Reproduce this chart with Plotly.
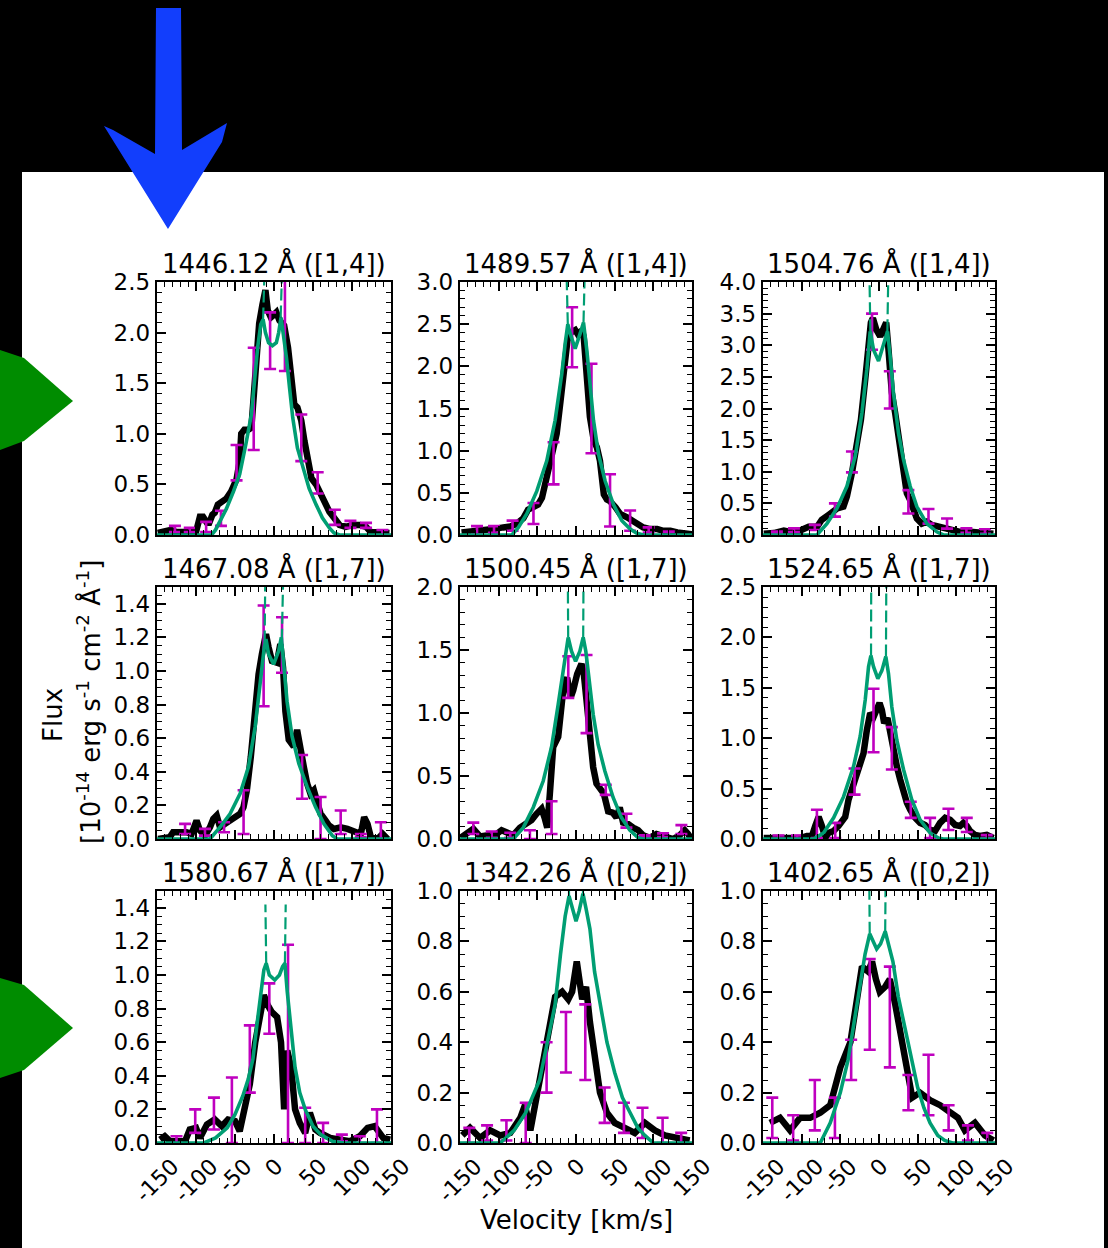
import plotly.graph_objects as go

FIG_W, FIG_H = 1108, 1248

TITLES = ["1446.12 Å ([1,4])", "1489.57 Å ([1,4])", "1504.76 Å ([1,4])",
          "1467.08 Å ([1,7])", "1500.45 Å ([1,7])", "1524.65 Å ([1,7])",
          "1580.67 Å ([1,7])", "1342.26 Å ([0,2])", "1402.65 Å ([0,2])"]
Y_MAX = [2.5, 3.0, 4.0, 1.5, 2.0, 2.5, 1.5, 1.0, 1.0]
Y_DTICK = [0.5, 0.5, 0.5, 0.2, 0.5, 0.5, 0.2, 0.2, 0.2]
Y_MINOR = [0.1, 0.1, 0.1, 0.05, 0.1, 0.1, 0.05, 0.05, 0.05]
X_TICKS = [-150, -100, -50, 0, 50, 100, 150]

# ---------------- panel 1 : 1446.12
obs_v1 = [-149, -140, -132, -125, -115, -105, -100, -95, -91, -86, -83, -79, -76, -72, -66, -61, -55, -48, -44, -42,
          -38, -33, -29, -27, -23, -19, -15, -11, -8, -4, -1, 3, 7, 13, 18, 22, 26, 30, 35, 39, 43, 48, 54, 58, 65,
          71, 77, 84, 92, 101, 110, 118, 124, 135, 148]
obs_f1 = [0.02, 0.03, 0.05, 0.03, 0.03, 0.04, 0.03, 0.18, 0.18, 0.12, 0.12, 0.2, 0.22, 0.3, 0.34, 0.36, 0.43, 0.55,
          0.73, 1.0, 1.04, 1.04, 1.06, 1.32, 1.82, 2.09, 2.27, 2.42, 2.22, 2.15, 2.17, 2.2, 2.12, 2.07, 1.85, 1.56,
          1.29, 1.26, 1.13, 0.93, 0.79, 0.56, 0.5, 0.43, 0.3, 0.23, 0.17, 0.1, 0.08, 0.1, 0.1, 0.08, 0.03, 0.03, 0.02]
mod_v1 = [-150, -80, -75, -70, -61, -52, -44, -36, -29, -25, -21, -17, -14, -11, -7, -2, 3, 6, 9, 12, 16, 20, 24,
          30, 37, 45, 54, 62, 71, 77, 84, 150]
mod_f1 = [0.0, 0.0, 0.05, 0.13, 0.26, 0.43, 0.6, 0.9, 1.19, 1.52, 1.85, 2.08, 2.13, 2.0, 1.9, 1.87, 1.9, 2.0, 2.15,
          1.98, 1.75, 1.45, 1.16, 0.86, 0.66, 0.46, 0.3, 0.17, 0.07, 0.02, 0.0, 0.0]
int_v1 = [-14, -11, None, 8.5, 11.5]
int_f1 = [2.13, 2.9, None, 2.15, 2.9]
err_v1 = [-127, -108, -87, -68, -48, -26, -5, 14, 35, 56, 78, 98, 118, 139]
err_f1 = [0.06, 0.05, 0.08, 0.165, 0.715, 1.345, 1.92, 2.1, 0.96, 0.515, 0.175, 0.105, 0.095, 0.025]
err_e1 = [0.03, 0.02, 0.05, 0.075, 0.175, 0.505, 0.28, 0.48, 0.23, 0.105, 0.075, 0.035, 0.025, 0.025]

# ---------------- panel 2 : 1489.57
obs_v2 = [-148, -133, -120, -107, -94, -85, -77, -68, -62, -55, -49, -44, -38, -31, -25, -20, -15, -11, -7, -1,
          3, 7.5, 10, 14, 18, 23, 27, 31, 36, 40, 44, 51, 57, 66, 72, 79, 87, 96, 105, 113, 122, 131, 144, 150]
obs_f2 = [0.03, 0.04, 0.055, 0.07, 0.09, 0.1, 0.13, 0.2, 0.3, 0.33, 0.36, 0.44, 0.68, 0.92, 1.2, 1.59, 2.07, 2.31,
          2.4, 2.43, 2.37, 2.43, 2.35, 1.83, 1.4, 1.12, 1.04, 0.88, 0.48, 0.42, 0.4, 0.33, 0.25, 0.21, 0.17, 0.13,
          0.09, 0.07, 0.07, 0.05, 0.05, 0.03, 0.02, 0.01]
mod_v2 = [-150, -83, -74.5, -63.7, -50.7, -37.8, -27, -18.4, -14, -10.6, -7.6, -1.1, 5.4, 9.7, 14, 18.3, 22.6,
          29.1, 37.7, 48.5, 59.3, 70.1, 78.7, 87.4, 150]
mod_f2 = [0.0, 0.0, 0.09, 0.25, 0.52, 0.88, 1.36, 1.91, 2.27, 2.5, 2.39, 2.21, 2.39, 2.52, 2.19, 1.75, 1.36, 0.96,
          0.64, 0.36, 0.17, 0.07, 0.02, 0.0, 0.0]
int_v2 = [-10.6, -12.7, None, 9.7, 11.8]
int_f2 = [2.5, 3.3, None, 2.52, 3.3]
err_v2 = [-128, -106, -82, -55, -29, -5, 20, 44, 70, 94, 120]
err_f2 = [0.055, 0.065, 0.11, 0.255, 0.85, 2.345, 1.5, 0.41, 0.17, 0.06, 0.02]
err_e2 = [0.05, 0.04, 0.06, 0.125, 0.25, 0.355, 0.53, 0.31, 0.12, 0.03, 0.02]

# ---------------- panel 3 : 1504.76
obs_v3 = [-149, -136, -123, -115, -102, -91, -80, -74, -65, -54, -46, -41.5, -35, -28.6, -23.4, -17.8, -13.5,
          -10.5, -7.9, -3.6, 1.5, 6.7, 9.3, 12.3, 16.6, 20.9, 27.4, 31.7, 36, 40.3, 44.6, 48.9, 55.3, 61.8, 68.3,
          79, 87.6, 96.2, 104.8, 117.8, 130.7, 147.9]
obs_f3 = [0.02, 0.03, 0.07, 0.05, 0.07, 0.13, 0.13, 0.24, 0.32, 0.42, 0.45, 0.61, 0.98, 1.4, 1.82, 2.46, 3.04,
          3.36, 3.43, 3.25, 3.14, 3.3, 3.36, 2.93, 2.25, 1.93, 1.4, 1.14, 0.66, 0.55, 0.42, 0.26, 0.18, 0.21, 0.16,
          0.13, 0.11, 0.07, 0.05, 0.05, 0.04, 0.02]
mod_v3 = [-150, -80.3, -67.3, -54.4, -41.5, -30.8, -22.1, -15.7, -11.4, -7.1, -0.6, 5.8, 11, 14.4, 18.7, 25.2,
          31.7, 40.3, 48.9, 61.8, 74.7, 83.3, 150]
mod_f3 = [0.0, 0.0, 0.18, 0.42, 0.77, 1.24, 1.93, 2.62, 3.22, 2.93, 2.75, 2.99, 3.22, 2.83, 2.25, 1.61, 1.19, 0.77,
          0.45, 0.18, 0.05, 0.0, 0.0]
int_v3 = [-11.2, -12.6, None, 10.8, 12.3]
int_f3 = [3.22, 4.3, None, 3.22, 4.3]
err_v3 = [-132, -110, -83, -57, -35, -9, 14, 38, 64, 88, 113, 137]
err_f3 = [0.035, 0.075, 0.12, 0.395, 1.155, 3.215, 2.295, 0.525, 0.295, 0.18, 0.07, 0.055]
err_e3 = [0.02, 0.03, 0.04, 0.105, 0.165, 0.285, 0.295, 0.185, 0.115, 0.08, 0.035, 0.035]

# ---------------- panel 4 : 1467.08
obs_v4 = [-148.7, -133.7, -129.4, -120.8, -112.2, -105.7, -99.3, -95, -88.5, -82.1, -77.8, -73.5, -69.2, -62.8,
          -56.3, -49.9, -43.4, -39.1, -34.8, -29.7, -25.4, -19.8, -15.5, -10.3, -6.9, -2.6, 3.8, 8.1, 11.6, 14.6,
          18.9, 25.3, 29.6, 33.9, 38.2, 42.5, 46.8, 51.1, 55.4, 59.7, 66.2, 70.5, 76.9, 85.5, 94.1, 102.7, 111.3,
          115.6, 119.9, 124.2, 132.8, 139.2, 145.7]
obs_f4 = [0.0, 0.01, 0.04, 0.04, 0.04, 0.03, 0.11, 0.05, 0.02, 0.07, 0.12, 0.14, 0.07, 0.09, 0.11, 0.13, 0.15,
          0.19, 0.29, 0.49, 0.72, 0.98, 1.1, 1.22, 1.14, 1.06, 1.05, 1.16, 1.02, 0.76, 0.59, 0.55, 0.65, 0.51, 0.43,
          0.33, 0.27, 0.29, 0.21, 0.15, 0.11, 0.08, 0.06, 0.07, 0.06, 0.04, 0.03, 0.13, 0.09, 0.01, 0.0, 0.03, 0.0]
mod_v4 = [-150, -82.1, -69.2, -56.3, -43.4, -32.7, -24.1, -17.6, -12.5, -10.3, -6.9, -0.5, 6, 9.4, 12.4, 16.7,
          23.2, 31.8, 42.5, 53.3, 64, 74.8, 81.2, 150]
mod_f4 = [0.0, 0.0, 0.07, 0.15, 0.27, 0.43, 0.67, 0.94, 1.14, 1.19, 1.1, 1.04, 1.12, 1.2, 1.06, 0.82, 0.61, 0.45,
          0.31, 0.19, 0.09, 0.02, 0.0, 0.0]
int_v4 = [-12.0, -11.0, None, 10.0, 12.2]
int_f4 = [1.17, 1.65, None, 1.18, 1.65]
err_v4 = [-114, -88.5, -64, -39, -13.3, 10.3, 36, 59.7, 85.5, 111.3, 137]
err_f4 = [0.06, 0.04, 0.07, 0.16, 1.09, 1.155, 0.37, 0.125, 0.1, 0.02, 0.05]
err_e4 = [0.03, 0.02, 0.03, 0.13, 0.3, 0.165, 0.13, 0.125, 0.07, 0.01, 0.05]

# ---------------- panel 5 : 1500.45
obs_v5 = [-149.1, -141.4, -132.8, -124.2, -111.3, -102.6, -96.2, -89.7, -81.1, -72.5, -63.9, -57.4, -51, -44.5,
          -40.2, -37.2, -33.8, -29.5, -23, -20, -15.7, -11.4, -7.1, -3.6, 1.5, 7.1, 10.1, 13.6, 17.9, 22.2, 26.5,
          30.8, 36, 41.6, 47.2, 52.3, 56.6, 60.9, 67.4, 73.8, 80.3, 86.8, 95.4, 104, 110.4, 116.9, 125.5, 134.1,
          140.6, 144.9, 149.2]
obs_f5 = [0.01, 0.04, 0.08, 0.02, 0.03, 0.04, 0.07, 0.05, 0.03, 0.09, 0.12, 0.15, 0.2, 0.24, 0.16, 0.09, 0.36,
          0.73, 0.81, 1.02, 1.23, 1.28, 1.12, 1.18, 1.31, 1.39, 1.31, 1.1, 0.81, 0.57, 0.44, 0.41, 0.36, 0.22, 0.21,
          0.17, 0.25, 0.13, 0.12, 0.09, 0.07, 0.03, 0.01, 0.04, 0.03, 0.01, 0.0, 0.03, 0.07, 0.04, 0.0]
mod_v5 = [-150, -81.1, -68.2, -55.3, -42.4, -31.6, -23, -16.6, -12.2, -10.1, -5.8, -0.6, 5, 9.3, 12.7, 17, 22.2,
          28.6, 37.3, 48, 58.8, 69.5, 80.3, 86.8, 150]
mod_f5 = [0.0, 0.0, 0.09, 0.25, 0.46, 0.73, 1.07, 1.33, 1.55, 1.6, 1.49, 1.41, 1.49, 1.6, 1.49, 1.25, 0.99, 0.75,
          0.54, 0.33, 0.17, 0.07, 0.01, 0.0, 0.0]
int_v5 = [-10.1, -10.8, None, 9.3, 9.9]
int_f5 = [1.6, 2.3, None, 1.6, 2.3]
err_v5 = [-132.8, -109, -85, -59.6, -31.6, -10, 13.6, 38.5, 65.2, 88.9, 112.6, 136.3]
err_f5 = [0.085, 0.035, 0.03, 0.035, 0.17, 1.285, 1.15, 0.39, 0.145, 0.02, 0.03, 0.075]
err_e5 = [0.045, 0.025, 0.02, 0.035, 0.13, 0.165, 0.31, 0.04, 0.055, 0.01, 0.015, 0.035]

# ---------------- panel 6 : 1524.65
obs_v6 = [-149.1, -123.3, -101.8, -93.2, -86.7, -82.4, -78.1, -73.8, -69.5, -65.2, -58.7, -52.3, -48, -43.7,
          -39.4, -32.9, -26.5, -20, -15.7, -11.4, -7.1, -2.8, 0.7, 3.7, 6.7, 11, 14.4, 18.7, 23.1, 27.4, 31.7, 36,
          40.3, 46.7, 53.2, 59.6, 66.1, 72.6, 79, 85.5, 91.9, 98.4, 104.8, 109.1, 113.5, 117.8, 124.2, 130.7, 139.3,
          147.9]
obs_f6 = [0.01, 0.01, 0.01, 0.03, 0.03, 0.13, 0.22, 0.13, 0.01, 0.06, 0.08, 0.13, 0.17, 0.22, 0.39, 0.55, 0.72,
          0.85, 1.08, 1.25, 1.21, 1.28, 1.35, 1.28, 1.15, 1.2, 1.05, 0.82, 0.72, 0.59, 0.46, 0.36, 0.29, 0.21, 0.16,
          0.14, 0.09, 0.08, 0.16, 0.21, 0.19, 0.14, 0.13, 0.16, 0.13, 0.08, 0.04, 0.03, 0.04, 0.01]
mod_v6 = [-150, -84.6, -71.7, -58.7, -45.8, -32.9, -24.3, -17.8, -13.5, -10.5, -7.1, -1.5, 3.7, 8.8, 12.3, 16.6,
          23.1, 31.7, 42.4, 53.2, 66.1, 76.9, 83.3, 150]
mod_f6 = [0.0, 0.0, 0.06, 0.21, 0.42, 0.72, 1.02, 1.38, 1.71, 1.82, 1.71, 1.59, 1.67, 1.81, 1.64, 1.31, 0.98, 0.69,
          0.39, 0.19, 0.06, 0.01, 0.0, 0.0]
int_v6 = [-10.3, -10.0, None, 9.0, 9.6]
int_f6 = [1.82, 2.8, None, 1.81, 2.8]
err_v6 = [-130, -106, -80.3, -56.6, -31.6, -7.1, 16.6, 41.1, 66.1, 89.8, 113.5, 139.3]
err_f6 = [0.02, 0.02, 0.15, 0.085, 0.57, 1.175, 0.9, 0.29, 0.11, 0.195, 0.14, 0.025]
err_e6 = [0.015, 0.015, 0.14, 0.075, 0.13, 0.315, 0.21, 0.08, 0.1, 0.105, 0.07, 0.015]

# ---------------- panel 7 : 1580.67
obs_v7 = [-146, -140, -133, -114, -108, -100, -95, -86, -76, -67, -59, -50, -44, -37, -31, -24, -18, -13, -8, -3,
          4, 9, 13, 17, 22, 27, 33, 40, 46, 53, 59, 72, 85, 97, 110, 120, 129, 140, 149]
obs_f7 = [0.02, 0.04, 0.01, 0.01, 0.08, 0.09, 0.03, 0.11, 0.14, 0.1, 0.14, 0.13, 0.07, 0.2, 0.35, 0.6, 0.75, 0.88,
          0.82, 0.78, 0.75, 0.6, 0.2, 0.55, 0.45, 0.2, 0.12, 0.06, 0.18, 0.08, 0.06, 0.03, 0.02, 0.01, 0.04, 0.09,
          0.1, 0.03, 0.02]
mod_v7 = [-150, -90, -75, -60, -50, -40, -33, -27, -22, -17, -13, -10, -6, 1, 7, 11, 14, 17, 22, 27, 33, 40, 50,
          60, 75, 90, 150]
mod_f7 = [0.0, 0.0, 0.03, 0.09, 0.17, 0.28, 0.38, 0.5, 0.7, 0.9, 1.03, 1.07, 1.0, 0.97, 1.0, 1.05, 1.07, 0.9, 0.65,
          0.45, 0.3, 0.2, 0.1, 0.05, 0.01, 0.0, 0.0]
int_v7 = [-10, -11, None, 14, 15]
int_f7 = [1.07, 1.42, None, 1.07, 1.42]
err_v7 = [-125, -101, -77, -54, -31, -6, 18, 40, 63, 87, 110, 132]
err_f7 = [0.02, 0.13, 0.175, 0.195, 0.5, 0.8, 0.59, 0.105, 0.06, 0.03, 0.02, 0.1]
err_e7 = [0.02, 0.07, 0.095, 0.195, 0.2, 0.15, 0.59, 0.105, 0.06, 0.02, 0.02, 0.1]

# ---------------- panel 8 : 1342.26
obs_v8 = [-147, -137, -124, -111, -98, -85, -72, -66, -59, -47, -36, -27, -18, -10, -5, 1, 8, 13, 18, 25, 31, 40,
          50, 63, 76, 89, 102, 115, 134, 147]
obs_f8 = [0.03, 0.06, 0.02, 0.05, 0.03, 0.04, 0.1, 0.15, 0.05, 0.25, 0.45, 0.58, 0.6, 0.57, 0.6, 0.72, 0.57, 0.62,
          0.48, 0.3, 0.2, 0.12, 0.08, 0.06, 0.04, 0.08, 0.05, 0.03, 0.02, 0.01]
mod_v8 = [-150, -98, -80, -65, -47, -35, -27, -20, -14, -9, -4, 0, 4, 9, 13, 18, 24, 31, 40, 50, 60, 70, 80, 89,
          100, 150]
mod_f8 = [0.0, 0.0, 0.05, 0.12, 0.25, 0.42, 0.55, 0.75, 0.9, 0.98, 0.92, 0.88, 0.92, 0.99, 0.93, 0.85, 0.68, 0.55,
          0.4, 0.28, 0.18, 0.12, 0.06, 0.03, 0.0, 0.0]
int_v8 = [-9, -10, None, 9, 10]
int_f8 = [0.98, 1.3, None, 0.99, 1.3]
err_v8 = [-138, -115, -90, -65, -38, -13, 12, 37, 62, 86, 112, 136]
err_f8 = [0.03, 0.04, 0.05, 0.08, 0.3, 0.4, 0.4, 0.15, 0.1, 0.08, 0.05, 0.02]
err_e8 = [0.03, 0.03, 0.04, 0.08, 0.1, 0.12, 0.15, 0.07, 0.06, 0.06, 0.05, 0.02]

# ---------------- panel 9 : 1402.65
obs_v9 = [-141, -128, -115, -102, -89, -76, -63, -50, -37, -28, -22, -14, -9, -4, 1, 8, 14, 21, 27, 34, 43, 53,
          66, 79, 92, 102, 111, 124, 137, 148]
obs_f9 = [0.08, 0.1, 0.05, 0.1, 0.1, 0.12, 0.15, 0.3, 0.4, 0.6, 0.7, 0.68, 0.72, 0.65, 0.6, 0.62, 0.65, 0.55, 0.45,
          0.3, 0.18, 0.2, 0.17, 0.15, 0.12, 0.1, 0.05, 0.08, 0.03, 0.01]
mod_v9 = [-150, -76, -63, -50, -40, -31, -24, -18, -12, -7, -3, 2, 8, 13, 18, 25, 34, 42, 50, 58, 66, 76, 85, 95,
          150]
mod_f9 = [0.0, 0.0, 0.08, 0.2, 0.33, 0.5, 0.63, 0.75, 0.83, 0.8, 0.77, 0.79, 0.84, 0.78, 0.72, 0.58, 0.45, 0.32,
          0.22, 0.14, 0.08, 0.03, 0.01, 0.0, 0.0]
int_v9 = [-12, -13, None, 8, 9]
int_f9 = [0.83, 1.2, None, 0.84, 1.2]
err_v9 = [-138, -111, -83, -57, -36, -12, 14, 38, 64, 90, 115, 140]
err_f9 = [0.1, 0.06, 0.15, 0.1, 0.33, 0.55, 0.5, 0.2, 0.23, 0.1, 0.04, 0.02]
err_e9 = [0.08, 0.05, 0.1, 0.08, 0.08, 0.18, 0.2, 0.07, 0.12, 0.05, 0.03, 0.02]

OBS_V = [obs_v1, obs_v2, obs_v3, obs_v4, obs_v5, obs_v6, obs_v7, obs_v8, obs_v9]
OBS_F = [obs_f1, obs_f2, obs_f3, obs_f4, obs_f5, obs_f6, obs_f7, obs_f8, obs_f9]
MOD_V = [mod_v1, mod_v2, mod_v3, mod_v4, mod_v5, mod_v6, mod_v7, mod_v8, mod_v9]
MOD_F = [mod_f1, mod_f2, mod_f3, mod_f4, mod_f5, mod_f6, mod_f7, mod_f8, mod_f9]
INT_V = [int_v1, int_v2, int_v3, int_v4, int_v5, int_v6, int_v7, int_v8, int_v9]
INT_F = [int_f1, int_f2, int_f3, int_f4, int_f5, int_f6, int_f7, int_f8, int_f9]
ERR_V = [err_v1, err_v2, err_v3, err_v4, err_v5, err_v6, err_v7, err_v8, err_v9]
ERR_F = [err_f1, err_f2, err_f3, err_f4, err_f5, err_f6, err_f7, err_f8, err_f9]
ERR_E = [err_e1, err_e2, err_e3, err_e4, err_e5, err_e6, err_e7, err_e8, err_e9]

BLACK = "#000000"
GREEN = "#009E73"
MAGENTA = "#BF00BF"
FONT = "DejaVu Sans"

# layout geometry (pixels)
COL_X = [(157, 391), (460, 692), (763, 995)]
ROW_Y = [(282, 535), (587, 839), (891, 1143)]


def px(x):
    return x / FIG_W


def py(y):
    return 1 - y / FIG_H


fig = go.Figure()
layout = dict(
    width=FIG_W, height=FIG_H, autosize=False,
    margin=dict(l=0, r=0, t=0, b=0, pad=0, autoexpand=False),
    paper_bgcolor="black", plot_bgcolor="white",
    showlegend=False,
    font=dict(family=FONT, color="black"),
)
annotations = []

for i in range(9):
    r, c = divmod(i, 3)
    n = "" if i == 0 else str(i + 1)
    xa, ya = "x" + n, "y" + n
    x0, x1 = COL_X[c]
    y0, y1 = ROW_Y[r]

    fig.add_trace(go.Scatter(x=OBS_V[i], y=OBS_F[i], mode="lines", xaxis=xa, yaxis=ya,
                             line=dict(color=BLACK, width=6.5), hoverinfo="skip"))
    fig.add_trace(go.Scatter(x=ERR_V[i], y=ERR_F[i], mode="markers", xaxis=xa, yaxis=ya,
                             marker=dict(size=1, color="rgba(0,0,0,0)"),
                             error_y=dict(type="data", array=ERR_E[i], symmetric=True,
                                          color=MAGENTA, thickness=2.6, width=6),
                             hoverinfo="skip"))
    fig.add_trace(go.Scatter(x=INT_V[i], y=INT_F[i], mode="lines", xaxis=xa, yaxis=ya,
                             connectgaps=False,
                             line=dict(color=GREEN, width=2.2, dash="12px,5px"), hoverinfo="skip"))
    fig.add_trace(go.Scatter(x=MOD_V[i], y=MOD_F[i], mode="lines", xaxis=xa, yaxis=ya,
                             line=dict(color=GREEN, width=3.6), hoverinfo="skip"))

    common = dict(showline=True, linecolor="black", linewidth=2.4, mirror="ticks",
                  ticks="inside", ticklen=9, tickwidth=1.6, tickcolor="black",
                  showgrid=False, zeroline=False, fixedrange=True, automargin=False)
    layout["xaxis" + n] = dict(
        domain=[px(x0), px(x1)], anchor=ya, range=[-150, 150],
        tickvals=X_TICKS, showticklabels=False,
        minor=dict(ticks="inside", dtick=10, tick0=0, ticklen=5, tickwidth=1.3, tickcolor="black"),
        **common)
    layout["yaxis" + n] = dict(
        domain=[py(y1), py(y0)], anchor=xa, range=[0, Y_MAX[i]],
        tick0=0, dtick=Y_DTICK[i], tickformat=".1f",
        tickfont=dict(family=FONT, size=23, color="black"),
        minor=dict(ticks="inside", dtick=Y_MINOR[i], tick0=0, ticklen=5, tickwidth=1.3, tickcolor="black"),
        **common)

    # panel title
    annotations.append(dict(text=TITLES[i], x=px((x0 + x1) / 2), y=py(y0), xref="paper", yref="paper",
                            xanchor="center", yanchor="bottom", yshift=1, showarrow=False,
                            font=dict(family=FONT, size=26, color="black")))
    # rotated x tick labels on the bottom row
    if r == 2:
        for v in X_TICKS:
            annotations.append(dict(text=str(v), x=v, xref=xa, y=py(y1), yref="paper",
                                    xanchor="center", yanchor="top", yshift=-8, textangle=-45,
                                    showarrow=False, font=dict(family=FONT, size=22, color="black")))

# axis labels
annotations.append(dict(text="Velocity [km/s]", x=px(576), y=py(1220), xref="paper", yref="paper",
                        xanchor="center", yanchor="middle", showarrow=False,
                        font=dict(family=FONT, size=26, color="black")))
annotations.append(dict(text="Flux", x=px(53), y=py(715), xref="paper", yref="paper",
                        xanchor="center", yanchor="middle", textangle=-90, showarrow=False,
                        font=dict(family=FONT, size=26, color="black")))
annotations.append(dict(text="[10<sup>-14</sup> erg s<sup>-1</sup> cm<sup>-2</sup> Å<sup>-1</sup>]",
                        x=px(89), y=py(702), xref="paper", yref="paper",
                        xanchor="center", yanchor="middle", textangle=-90, showarrow=False,
                        font=dict(family=FONT, size=26, color="black")))
layout["annotations"] = annotations


def path_from(points):
    s = "M " + " L ".join(f"{px(x):.5f},{py(y):.5f}" for x, y in points) + " Z"
    return s


shapes = [dict(type="rect", xref="paper", yref="paper", x0=px(22), x1=px(1104), y0=0, y1=py(172),
               fillcolor="white", line=dict(width=0), layer="below")]
blue_arrow = [(156, 8), (181, 8), (182, 150), (227, 123), (222, 142), (168, 229), (104, 126), (113, 130),
              (155, 154)]
green_arrow_1 = [(0, 350), (24, 358), (73, 401), (24, 441), (0, 450)]
green_arrow_2 = [(0, 978), (24, 985), (73, 1028), (24, 1070), (0, 1078)]
shapes.append(dict(type="path", xref="paper", yref="paper", path=path_from(blue_arrow),
                   fillcolor="rgb(18,62,252)", line=dict(width=0), layer="above"))
for pts in (green_arrow_1, green_arrow_2):
    shapes.append(dict(type="path", xref="paper", yref="paper", path=path_from(pts),
                       fillcolor="rgb(0,140,0)", line=dict(width=0), layer="above"))
layout["shapes"] = shapes

fig.update_layout(**layout)
fig.write_html("out.html")
